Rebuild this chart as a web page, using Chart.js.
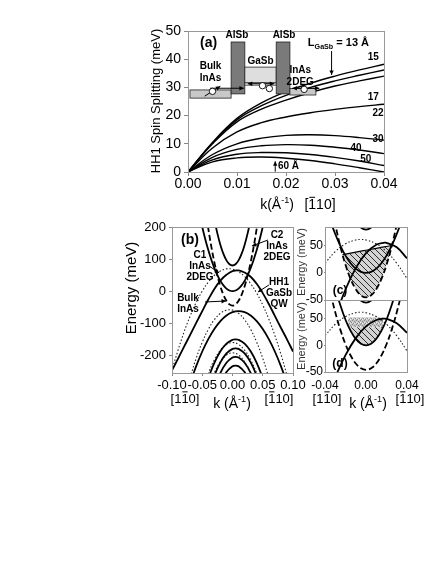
<!DOCTYPE html>
<html lang="en">
<head>
<meta charset="UTF-8">
<title>HH1 spin splitting and band structure</title>
<script src="https://cdn.jsdelivr.net/npm/chart.js"></script>
<style>
  body { margin: 0; background: #fff; }
  canvas { position: absolute; left: 0; top: 0; }
</style>
</head>
<body>
<canvas id="chartA" width="436" height="564"></canvas>
<canvas id="chartB" width="436" height="564"></canvas>
<canvas id="chartC" width="436" height="564"></canvas>
<canvas id="chartD" width="436" height="564"></canvas>
<script>
// ---------- panel (a): HH1 spin splitting (meV) vs k, one curve per GaSb width
const kA = [0, 0.005, 0.01, 0.015, 0.02, 0.025, 0.03, 0.035, 0.04];
const split13 = [0, 10.5, 19, 24.5, 28.5, 31.5, 34, 36.2, 38.2];
const split15 = [0, 10.3, 18.5, 23.5, 27.2, 30, 32.3, 34.3, 36.2];
const split17 = [0, 10, 17.8, 22.3, 25.5, 28.2, 30.5, 32.3, 34];
const split22 = [0, 8.5, 14.2, 17.5, 19.5, 21, 22.2, 23.2, 24];
const split30 = [0, 6.2, 10, 12, 13, 13.2, 12.9, 12.2, 11.3];
const split40 = [0, 5.2, 8, 9.3, 9.7, 9.5, 8.8, 7.8, 6.5];
const split50 = [0, 4.3, 6.3, 6.9, 6.8, 6.2, 5.2, 3.9, 2.3];
const split60 = [0, 3.6, 5, 5.3, 4.9, 4.1, 2.9, 1.5, 0];
const ticksA_x = [0, 0.01, 0.02, 0.03, 0.04];
const ticksA_y = [0, 10, 20, 30, 40, 50];

// inset band sketch in (a): [k0, k1, E0, E1]
const insetRects = [
  [0.0004, 0.0088, 26.2, 29.1],   // bulk InAs
  [0.0088, 0.0116, 27.7, 46.1],   // AlSb
  [0.0116, 0.0180, 31.6, 37.2],   // GaSb
  [0.0116, 0.0180, 30.8, 31.6],   // HH1 level
  [0.0180, 0.0208, 27.7, 46.1],   // AlSb
  [0.0208, 0.0261, 27.3, 29.6]    // InAs 2DEG
];
const insetFill = ['#c8c8c8', '#7a7a7a', '#dedede', '#f4f4f4', '#7a7a7a', '#c8c8c8'];

// ---------- panel (b): energy (meV) vs k
const hh1K = [-0.1, -0.09, -0.08, -0.07, -0.06, -0.05, -0.04, -0.03, -0.02, -0.01, 0, 0.01, 0.02, 0.03, 0.04, 0.05, 0.06, 0.07, 0.08, 0.09, 0.1];
const hh1E = [-247, -210, -173, -136, -99, -62, -26, 7, 33, 51, 62.5, 64.8, 58, 45, 23, -6, -40, -77, -114, -150, -188];
const dotTopK = [-0.11, -0.1, -0.09, -0.08, -0.07, -0.06, -0.05, -0.04, -0.03, -0.02, -0.01, 0, 0.01, 0.02, 0.03, 0.04, 0.05, 0.06, 0.07, 0.08, 0.09];
const dotTopE = [-334, -248, -184, -127, -77.5, -35, 0.3, 28.4, 49.3, 62.9, 69.4, 68.7, 60.8, 45.7, 23.3, -6.2, -42.9, -86.8, -137.9, -196.3, -261.8];
const dot2K = [-0.07, -0.06, -0.05, -0.04, -0.03, -0.02, -0.01, -0.005, 0, 0.01, 0.02, 0.03, 0.04, 0.05, 0.06];
const dot2E = [-269, -209, -159, -119, -89, -69, -59, -58, -59, -69, -89, -119, -159, -209, -269];
const hh2K = [-0.07, -0.06, -0.05, -0.04, -0.03, -0.02, -0.01, 0, 0.01, 0.02, 0.03, 0.04, 0.05, 0.06, 0.07, 0.08, 0.09];
const hh2E = [-286, -233.5, -188, -149.5, -118, -93.5, -76, -65.5, -62, -65.5, -76, -93.5, -118, -149.5, -188, -233.5, -286];
const low1K = [-0.05, -0.04, -0.03, -0.02, -0.01, 0, 0.005, 0.01, 0.02, 0.03, 0.04, 0.05, 0.06];
const low1E = [-331.5, -271.5, -223.5, -187.5, -163.5, -151.5, -150, -151.5, -163.5, -187.5, -223.5, -271.5, -331.5];
const low2K = [-0.05, -0.04, -0.03, -0.02, -0.01, 0, 0.01, 0.02, 0.03, 0.04, 0.05];
const low2E = [-310, -256, -214, -184, -166, -160, -166, -184, -214, -256, -310];
const low3K = [-0.04, -0.03, -0.02, -0.01, 0, 0.005, 0.01, 0.02, 0.03, 0.04, 0.05];
const low3E = [-319.75, -263.75, -221.75, -193.75, -179.75, -178, -179.75, -193.75, -221.75, -263.75, -319.75];
const low4K = [-0.04, -0.03, -0.02, -0.01, 0, 0.01, 0.02, 0.03, 0.04];
const low4E = [-304, -255, -220, -199, -192, -199, -220, -255, -304];
const low5K = [-0.03, -0.02, -0.01, 0, 0.005, 0.01, 0.02, 0.03, 0.04];
const low5E = [-303, -255, -223, -207, -205, -207, -223, -255, -303];
const low6K = [-0.02, -0.01, 0, 0.005, 0.01, 0.02, 0.03];
const low6E = [-288, -252, -234, -232, -234, -252, -288];
const c2K = [-0.035, -0.03, -0.025, -0.02, -0.015, -0.01, -0.005, 0, 0.005, 0.01, 0.015, 0.02, 0.025, 0.03, 0.035];
const c2E = [276, 224, 180, 144, 116, 96, 84, 80, 84, 96, 116, 144, 180, 224, 276];
const c1K = [-0.055, -0.05, -0.045, -0.04, -0.035, -0.03, -0.025, -0.02, -0.015, -0.01, -0.005, 0, 0.005, 0.01, 0.015, 0.02, 0.025, 0.03, 0.035, 0.04, 0.045, 0.05, 0.055];
const c1E = [242, 200, 162, 128, 98, 72, 50, 32, 18, 8, 2, 0, 2, 8, 18, 32, 50, 72, 98, 128, 162, 200, 242];
const bulkK = [-0.045, -0.04, -0.035, -0.03, -0.025, -0.02, -0.015, -0.01, -0.005, 0, 0.005, 0.01, 0.015, 0.02, 0.025, 0.03, 0.035, 0.04, 0.045];
const bulkE = [258.75, 195, 138.75, 90, 48.75, 15, -11.25, -30, -41.25, -45, -41.25, -30, -11.25, 15, 48.75, 90, 138.75, 195, 258.75];
const ticksB_x = [-0.1, -0.05, 0, 0.05, 0.1];
const ticksB_y = [-200, -100, 0, 100, 200];

// ---------- panels (c) and (d): close-up of the crossing
const kCD = [-0.04, -0.035, -0.03, -0.025, -0.02, -0.015, -0.01, -0.005, 0, 0.005, 0.01, 0.015, 0.02, 0.025, 0.03, 0.035, 0.04];
const c1C = [128, 98, 72, 50, 32, 18, 8, 2, 0, 2, 8, 18, 32, 50, 72, 98, 128];
const bulkC = [195, 138.75, 90, 48.75, 15, -11.25, -30, -41.25, -45, -41.25, -30, -11.25, 15, 48.75, 90, 138.75, 195];
const c2cK = [-0.02, -0.015, -0.01, -0.005, 0, 0.005, 0.01, 0.015, 0.02];
const c2C = [144, 116, 96, 84, 80, 84, 96, 116, 144];
const hh1cK = [-0.04, -0.03, -0.02, -0.01, 0, 0.01, 0.018, 0.02, 0.03, 0.04];
const hh1C = [-146, -82, -30.6, 9, 36.6, 52.2, 56, 55.8, 47.4, 27];
const dotcK = [-0.04, -0.03, -0.02, -0.01, -0.005, 0, 0.01, 0.02, 0.03, 0.04];
const dotC = [18, 39.5, 53.9, 61.1, 62, 61.1, 53.9, 39.5, 18, -10.4];
const hatchCK = [-0.0229, -0.02, -0.015, -0.01, -0.005, 0, 0.005, 0.01, 0.015, 0.02, 0.025, 0.0253];
const hatchCTop = [34, 35, 36.8, 38.5, 40.3, 42, 43.8, 45.5, 47.3, 49, 50.7, 50.8];
const hatchCBot = [34, 15, -11.25, -30, -41.25, -45, -41.25, -30, -11.25, 15, 48.75, 50.8];

const c1dK = [-0.03, -0.025, -0.02, -0.015, -0.01, -0.005, 0, 0.005, 0.01, 0.015, 0.02, 0.025, 0.03];
const c1D = [108, 75, 48, 27, 12, 3, 0, 3, 12, 27, 48, 75, 108];
const bulkD = [146, 101, 62, 29, 2, -19, -34, -43, -46, -43, -34, -19, 2, 29, 62, 101, 146];
const hh1dK = [-0.04, -0.03, -0.02, -0.01, 0, 0.01, 0.017, 0.02, 0.03, 0.04];
const hh1D = [-112, -60, -18.5, 13.5, 35.5, 47.5, 50, 49.6, 41.5, 23.5];
const hatchDK = [-0.0168, -0.015, -0.01, -0.005, 0, 0.005, 0.01, 0.015, 0.0168];
const hatchDTop = [34, 34, 34, 34, 34, 34, 34, 34, 34];
const hatchDBot = [34, 27, 12, 3, 0, 3, 12, 27, 34];
const stippleK = [-0.0176, 0.0166];
const stippleTop = [52, 52];
const stippleBot = [34, 34];
const ticksCD_x = [-0.04, 0, 0.04];
const ticksCD_y = [-50, 0, 50];

// ---------- helpers
const FONT = '"Liberation Sans", Arial, Helvetica, sans-serif';
const pts = (xs, ys) => xs.map((x, i) => ({ x: x, y: ys[i] }));
const SOLID = { borderColor: '#000', borderWidth: 1.8 };
const THIN = { borderColor: '#000', borderWidth: 1.4 };
const DASHED = { borderColor: '#000', borderWidth: 1.8, borderDash: [6, 3] };
const DOTTED = { borderColor: '#222', borderWidth: 1.1, borderDash: [1.5, 2] };
function curve(xs, ys, style) {
  return Object.assign({ data: pts(xs, ys), pointRadius: 0, fill: false, tension: 0.4 }, style);
}

function hatchPattern() {
  const c = document.createElement('canvas');
  c.width = 6; c.height = 6;
  const g = c.getContext('2d');
  g.fillStyle = '#d4d4d4'; g.fillRect(0, 0, 6, 6);
  g.strokeStyle = '#1a1a1a'; g.lineWidth = 0.9;
  g.beginPath();
  g.moveTo(0, 0); g.lineTo(6, 6);
  g.moveTo(-3, 3); g.lineTo(3, 9);
  g.moveTo(3, -3); g.lineTo(9, 3);
  g.stroke();
  return g.createPattern(c, 'repeat');
}
function stipplePattern() {
  const c = document.createElement('canvas');
  c.width = 4; c.height = 4;
  const g = c.getContext('2d');
  g.fillStyle = '#c4c4c4'; g.fillRect(0, 0, 4, 4);
  g.fillStyle = '#8c8c8c';
  g.fillRect(0, 0, 1, 1); g.fillRect(2, 1, 1, 1); g.fillRect(1, 3, 1, 1); g.fillRect(3, 2, 1, 1);
  g.fillStyle = '#eeeeee';
  g.fillRect(2, 3, 1, 1); g.fillRect(0, 2, 1, 1);
  return g.createPattern(c, 'repeat');
}

function drawRich(ctx, segs, x, y, size, align, bold) {
  const f = s => (bold ? 'bold ' : '') + s + 'px ' + FONT;
  const sz = s => (s.sup || s.sub) ? size * 0.65 : size;
  let total = 0;
  segs.forEach(s => { ctx.font = f(sz(s)); total += ctx.measureText(s.t).width; });
  let cx = align === 'center' ? x - total / 2 : (align === 'right' ? x - total : x);
  ctx.textAlign = 'left';
  ctx.textBaseline = 'middle';
  segs.forEach(s => {
    ctx.font = f(sz(s));
    const dy = s.sup ? -size * 0.35 : (s.sub ? size * 0.3 : 0);
    ctx.fillText(s.t, cx, y + dy);
    const w = ctx.measureText(s.t).width;
    if (s.over) {
      ctx.beginPath();
      ctx.lineWidth = 1;
      ctx.moveTo(cx + 1, y - size * 0.55);
      ctx.lineTo(cx + w - 1, y - size * 0.55);
      ctx.stroke();
    }
    cx += w;
  });
}

function arrowHead(ctx, x0, y0, x1, y1, s) {
  const a = Math.atan2(y1 - y0, x1 - x0);
  ctx.beginPath();
  ctx.moveTo(x1, y1);
  ctx.lineTo(x1 - s * Math.cos(a - 0.45), y1 - s * Math.sin(a - 0.45));
  ctx.lineTo(x1 - s * Math.cos(a + 0.45), y1 - s * Math.sin(a + 0.45));
  ctx.closePath();
  ctx.fill();
}

// decorations: frame, labels in data coords, labels in page coords, arrows, rects
function decor(cfg) {
  return {
    id: 'decor',
    afterDatasetsDraw(chart) {
      const ctx = chart.ctx, a = chart.chartArea;
      const xs = chart.scales.x, ys = chart.scales.y;
      const X = v => xs.getPixelForValue(v), Y = v => ys.getPixelForValue(v);
      ctx.save();
      (cfg.rects || []).forEach((r, i) => {
        ctx.fillStyle = cfg.rectFill[i];
        ctx.fillRect(X(r[0]), Y(r[3]), X(r[1]) - X(r[0]), Y(r[2]) - Y(r[3]));
        ctx.lineWidth = 0.8; ctx.strokeStyle = '#222';
        ctx.strokeRect(X(r[0]), Y(r[3]), X(r[1]) - X(r[0]), Y(r[2]) - Y(r[3]));
      });
      ctx.fillStyle = '#000'; ctx.strokeStyle = '#000';
      (cfg.arrows || []).forEach(ar => {
        const x0 = X(ar[0]), y0 = Y(ar[1]), x1 = X(ar[2]), y1 = Y(ar[3]);
        ctx.lineWidth = 1;
        ctx.beginPath(); ctx.moveTo(x0, y0); ctx.lineTo(x1, y1); ctx.stroke();
        arrowHead(ctx, x0, y0, x1, y1, 5);
        if (ar[4]) arrowHead(ctx, x1, y1, x0, y0, 5);
      });
      (cfg.circles || []).forEach(c => {
        ctx.lineWidth = 0.9;
        ctx.fillStyle = '#fff';
        ctx.beginPath(); ctx.arc(X(c[0]), Y(c[1]), 3.2, 0, Math.PI * 2); ctx.fill(); ctx.stroke();
        ctx.fillStyle = '#000';
      });
      ctx.restore();
      ctx.save();
      ctx.strokeStyle = '#999';
      ctx.lineWidth = 1;
      ctx.strokeRect(Math.round(a.left) + 0.5, Math.round(a.top) + 0.5, Math.round(a.width), Math.round(a.height));
      ctx.restore();
    },
    afterDraw(chart) {
      const ctx = chart.ctx;
      const xs = chart.scales.x, ys = chart.scales.y;
      ctx.save();
      ctx.fillStyle = '#000'; ctx.strokeStyle = '#000';
      (cfg.labels || []).forEach(l => {
        drawRich(ctx, l.segs, xs.getPixelForValue(l.k), ys.getPixelForValue(l.e), l.size, 'center', l.bold);
      });
      (cfg.page || []).forEach(l => {
        ctx.save();
        ctx.fillStyle = l.color || '#000';
        ctx.strokeStyle = l.color || '#000';
        ctx.translate(l.x, l.y);
        if (l.rot) ctx.rotate(-Math.PI / 2);
        drawRich(ctx, l.segs, 0, 0, l.size, 'center', l.bold);
        ctx.restore();
      });
      ctx.restore();
    }
  };
}

const fmt2 = v => (Math.abs(v) < 1e-9 ? '0.00' : v.toFixed(2));

function axes(o) {
  return {
    x: {
      type: 'linear', min: o.xmin, max: o.xmax,
      afterFit: s => { s.height = 30; },
      afterBuildTicks: s => { s.ticks = o.xticks.map(v => ({ value: v })); },
      border: { color: '#888' },
      grid: { drawOnChartArea: false, tickLength: o.tl, color: '#888' },
      ticks: { display: o.xlabels, autoSkip: false, maxRotation: 0, padding: o.xpad, color: '#000',
               font: { family: FONT, size: o.fs }, callback: fmt2 }
    },
    y: {
      type: 'linear', min: o.ymin, max: o.ymax,
      afterFit: s => { s.width = 40; },
      afterBuildTicks: s => { s.ticks = o.yticks.map(v => ({ value: v })); },
      border: { color: '#888' },
      grid: { drawOnChartArea: false, tickLength: o.tl, color: '#888' },
      ticks: { padding: o.ypad, color: '#000', font: { family: FONT, size: o.fs } }
    }
  };
}

function baseOptions(area, scales) {
  return {
    responsive: false,
    animation: false,
    layout: { padding: { left: area[0] - 40, top: area[1], right: 436 - area[2], bottom: 564 - area[3] - 30 } },
    elements: { line: { capBezierPoints: false } },
    plugins: { legend: { display: false }, tooltip: { enabled: false } },
    scales: scales
  };
}

const kLabel = [{ t: 'k (Å' }, { t: '-1', sup: true }, { t: ')' }];
const dirA = [{ t: '[' }, { t: '1', over: true }, { t: '10]' }];
const dirB = [{ t: '[1' }, { t: '1', over: true }, { t: '0]' }];
const T = t => [{ t: t }];

// ---------- chart (a)
new Chart(document.getElementById('chartA'), {
  type: 'line',
  data: {
    datasets: [split13, split15, split17, split22, split30, split40, split50, split60]
      .map(s => curve(kA, s, THIN))
  },
  options: baseOptions([188, 31, 384, 172],
    axes({ xmin: 0, xmax: 0.04, xticks: ticksA_x, ymin: 0, ymax: 50, yticks: ticksA_y,
           tl: 4, xpad: 0, ypad: 3, xlabels: true, fs: 14 })),
  plugins: [decor({
    rects: insetRects, rectFill: insetFill,
    arrows: [[0.0045, 29.7, 0.0114, 29.7], [0.0122, 31.3, 0.0176, 31.3, true], [0.0213, 29.7, 0.0268, 29.7, true],
             [0.0034, 26.9, 0.0066, 30.4], [0.0293, 42.9, 0.0293, 34.4], [0.0178, 0.1, 0.0178, 3.8]],
    circles: [[0.005, 28.6], [0.0152, 30.6], [0.0166, 29.6], [0.0237, 29.3]],
    labels: [
      { segs: T('(a)'), k: 0.0042, e: 45.6, size: 14, bold: true },
      { segs: T('AlSb'), k: 0.0100, e: 48.6, size: 10, bold: true },
      { segs: T('AlSb'), k: 0.0196, e: 48.6, size: 10, bold: true },
      { segs: T('GaSb'), k: 0.0148, e: 39.2, size: 10, bold: true },
      { segs: T('Bulk'), k: 0.0046, e: 37.6, size: 10, bold: true },
      { segs: T('InAs'), k: 0.0046, e: 33.4, size: 10, bold: true },
      { segs: T('InAs'), k: 0.0229, e: 36.2, size: 10, bold: true },
      { segs: T('2DEG'), k: 0.0229, e: 32.0, size: 10, bold: true },
      { segs: [{ t: 'L' }, { t: 'GaSb', sub: true }, { t: ' = 13 Å' }], k: 0.0307, e: 45.6, size: 11, bold: true },
      { segs: T('15'), k: 0.0378, e: 40.8, size: 10, bold: true },
      { segs: T('17'), k: 0.0378, e: 26.6, size: 10, bold: true },
      { segs: T('22'), k: 0.0388, e: 20.9, size: 10, bold: true },
      { segs: T('30'), k: 0.0388, e: 11.7, size: 10, bold: true },
      { segs: T('40'), k: 0.0343, e: 8.5, size: 10, bold: true },
      { segs: T('50'), k: 0.0363, e: 4.6, size: 10, bold: true },
      { segs: T('60 Å'), k: 0.0205, e: 2.0, size: 10, bold: true }
    ],
    page: [
      { segs: T('HH1 Spin Splitting (meV)'), x: 156, y: 101, size: 13, rot: true },
      { segs: [{ t: 'k(Å' }, { t: '-1', sup: true }, { t: ')' }], x: 277, y: 205, size: 14 },
      { segs: dirA, x: 320, y: 205, size: 14 }
    ]
  })]
});

// ---------- chart (b)
new Chart(document.getElementById('chartB'), {
  type: 'line',
  data: {
    datasets: [
      curve(c2K, c2E, SOLID),
      curve(c1K, c1E, SOLID),
      curve(bulkK, bulkE, DASHED),
      curve(hh1K, hh1E, SOLID),
      curve(dotTopK, dotTopE, DOTTED),
      curve(dot2K, dot2E, DOTTED),
      curve(hh2K, hh2E, SOLID),
      curve(low1K, low1E, SOLID),
      curve(low2K, low2E, DOTTED),
      curve(low3K, low3E, SOLID),
      curve(low4K, low4E, DOTTED),
      curve(low5K, low5E, SOLID),
      curve(low6K, low6E, SOLID)
    ]
  },
  options: baseOptions([172, 227, 293, 373],
    axes({ xmin: -0.1, xmax: 0.1, xticks: ticksB_x, ymin: -255, ymax: 200, yticks: ticksB_y,
           tl: 3, xpad: 2, ypad: 3, xlabels: true, fs: 13 })),
  plugins: [decor({
    arrows: [[-0.0385, 78.5, -0.022, 56.7], [0.0587, 159.5, 0.0322, 140.8], [0.0603, 19.3, 0.0421, -2.6],
             [-0.0455, -33.7, -0.0107, -30.6]],
    labels: [
      { segs: T('(b)'), k: -0.0702, e: 159.5, size: 14, bold: true },
      { segs: T('C1'), k: -0.0537, e: 112.7, size: 10, bold: true },
      { segs: T('InAs'), k: -0.0537, e: 78.5, size: 10, bold: true },
      { segs: T('2DEG'), k: -0.0537, e: 44.2, size: 10, bold: true },
      { segs: T('C2'), k: 0.0736, e: 175, size: 10, bold: true },
      { segs: T('InAs'), k: 0.0736, e: 140.8, size: 10, bold: true },
      { segs: T('2DEG'), k: 0.0736, e: 106.5, size: 10, bold: true },
      { segs: T('HH1'), k: 0.0769, e: 28.6, size: 10, bold: true },
      { segs: T('GaSb'), k: 0.0769, e: -5.7, size: 10, bold: true },
      { segs: T('QW'), k: 0.0769, e: -40, size: 10, bold: true },
      { segs: T('Bulk'), k: -0.0736, e: -21.3, size: 10, bold: true },
      { segs: T('InAs'), k: -0.0736, e: -55.5, size: 10, bold: true }
    ],
    page: [
      { segs: T('Energy (meV)'), x: 132, y: 288, size: 15, rot: true },
      { segs: dirB, x: 185, y: 399, size: 13 },
      { segs: kLabel, x: 232, y: 404, size: 14 },
      { segs: dirA, x: 279, y: 399, size: 13 }
    ]
  })]
});

// ---------- chart (c)
const hatch = hatchPattern();
const stipple = stipplePattern();
new Chart(document.getElementById('chartC'), {
  type: 'line',
  data: {
    datasets: [
      curve(kCD, c1C, SOLID),
      curve(kCD, bulkC, DASHED),
      curve(c2cK, c2C, SOLID),
      curve(hh1cK, hh1C, SOLID),
      curve(dotcK, dotC, DOTTED),
      Object.assign(curve(hatchCK, hatchCBot, { borderWidth: 0 }), { order: 10 }),
      Object.assign(curve(hatchCK, hatchCTop, { borderColor: '#000', borderWidth: 1.2 }),
        { order: 9, fill: { target: 5, above: hatch, below: 'rgba(0,0,0,0)' } })
    ]
  },
  options: baseOptions([325, 227, 407, 300],
    axes({ xmin: -0.04, xmax: 0.04, xticks: ticksCD_x, ymin: -50, ymax: 85, yticks: ticksCD_y,
           tl: 1, xpad: 3, ypad: 1, xlabels: false, fs: 12 })),
  plugins: [decor({
    labels: [{ segs: T('(c)'), k: -0.0254, e: -33.4, size: 12, bold: true }],
    page: [{ segs: T('Energy (meV)'), x: 302, y: 262, size: 11, rot: true, color: '#333' }]
  })]
});

// ---------- chart (d)
new Chart(document.getElementById('chartD'), {
  type: 'line',
  data: {
    datasets: [
      curve(c1dK, c1D, SOLID),
      curve(kCD, bulkD, DASHED),
      curve(c2cK, c2C, SOLID),
      curve(hh1dK, hh1D, SOLID),
      curve(dotcK, dotC, DOTTED),
      Object.assign(curve(hatchDK, hatchDBot, { borderWidth: 0 }), { order: 10 }),
      Object.assign(curve(hatchDK, hatchDTop, { borderWidth: 0 }),
        { order: 9, fill: { target: 5, above: hatch, below: 'rgba(0,0,0,0)' } }),
      Object.assign(curve(stippleK, stippleBot, { borderWidth: 0, tension: 0 }), { order: 10 }),
      Object.assign(curve(stippleK, stippleTop, { borderWidth: 0, tension: 0 }),
        { order: 9, fill: { target: 7, above: stipple, below: 'rgba(0,0,0,0)' } })
    ]
  },
  options: baseOptions([325, 300, 407, 372],
    axes({ xmin: -0.04, xmax: 0.04, xticks: ticksCD_x, ymin: -50, ymax: 85, yticks: ticksCD_y,
           tl: 1, xpad: 5, ypad: 1, xlabels: true, fs: 12 })),
  plugins: [decor({
    labels: [{ segs: T('(d)'), k: -0.0254, e: -35, size: 12, bold: true }],
    page: [
      { segs: T('Energy (meV)'), x: 302, y: 336, size: 11, rot: true, color: '#333' },
      { segs: dirB, x: 327, y: 399, size: 13 },
      { segs: kLabel, x: 368, y: 404, size: 14 },
      { segs: dirA, x: 410, y: 399, size: 13 }
    ]
  })]
});
</script>
</body>
</html>
